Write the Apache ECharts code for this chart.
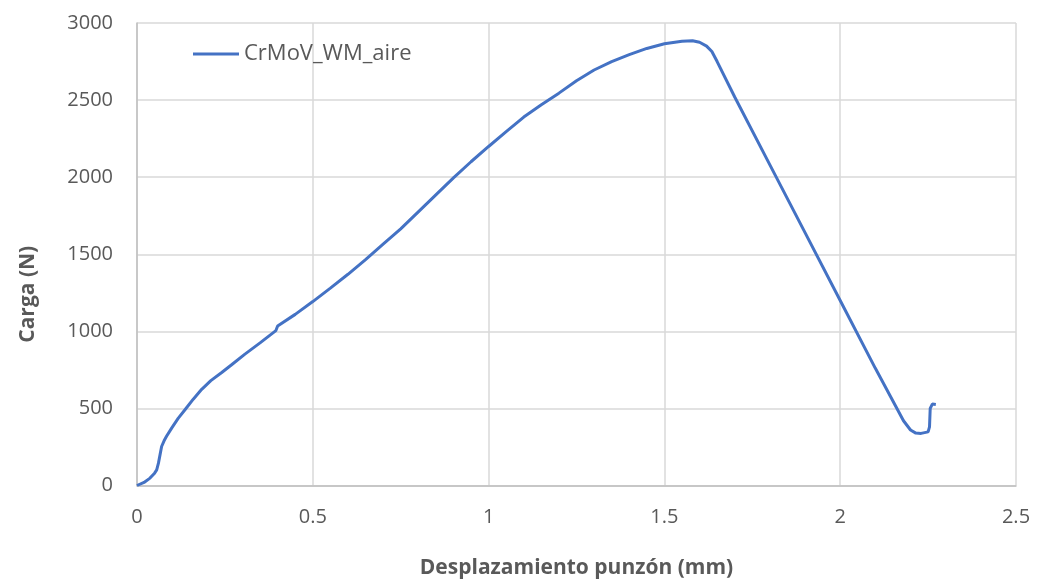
<!DOCTYPE html>
<html>
<head>
<meta charset="utf-8">
<script src="https://cdn.jsdelivr.net/npm/echarts@6/dist/echarts.min.js"></script>
<style>
  html, body { margin: 0; padding: 0; background: #fff; }
  #chart { width: 1038px; height: 585px; }
</style>
</head>
<body>
<div id="chart"></div>
<script>
// desplazamiento (mm), carga (N)
const desplazamiento = [0, 0.02, 0.037, 0.05, 0.056, 0.061, 0.066, 0.07, 0.077, 0.084, 0.099, 0.117, 0.137, 0.16, 0.184, 0.21, 0.241, 0.27, 0.307, 0.35, 0.395, 0.4, 0.45, 0.5, 0.55, 0.6, 0.65, 0.7, 0.75, 0.8, 0.85, 0.9, 0.95, 1.0, 1.05, 1.1, 1.15, 1.2, 1.25, 1.3, 1.35, 1.4, 1.45, 1.5, 1.55, 1.58, 1.6, 1.62, 1.635, 1.65, 1.7, 1.8, 1.9, 2.0, 2.1, 2.18, 2.2, 2.215, 2.23, 2.25, 2.254, 2.256, 2.262, 2.272];
const carga = [0, 20, 48, 80, 101, 145, 205, 253, 290, 319, 374, 435, 493, 560, 624, 680, 733, 785, 852, 925, 1005, 1035, 1110, 1193, 1280, 1370, 1465, 1565, 1665, 1775, 1885, 1995, 2100, 2199, 2295, 2390, 2470, 2545, 2625, 2695, 2750, 2795, 2835, 2865, 2882, 2885, 2875, 2850, 2815, 2750, 2520, 2080, 1640, 1200, 760, 420, 360, 340, 338, 348, 380, 500, 528, 525];

const serieNombre = "CrMoV_WM_aire";
const fuente = "Open Sans";

const datos = desplazamiento.map((x, i) => [x, carga[i]]);

const myChart = echarts.init(document.getElementById("chart"));
let option = {
  animation: false,
  textStyle: { fontFamily: fuente },
  grid: { left: 137, right: 22, top: 23, bottom: 99.5 },
  legend: {
    left: 188,
    top: 38,
    itemWidth: 46,
    itemHeight: 3,
    icon: "rect",
    itemGap: 6,
    textStyle: { fontSize: 22, color: "#595959", fontFamily: fuente },
    data: [serieNombre],
  },
  xAxis: {
    type: "value",
    min: 0,
    max: 2.5,
    interval: 0.5,
    name: "Desplazamiento punzón (mm)",
    nameLocation: "middle",
    nameGap: 72,
    nameTextStyle: { fontSize: 21, fontWeight: "bold", color: "#595959" },
    axisLine: { lineStyle: { color: "#bfbfbf", width: 1.5 } },
    axisTick: { show: false },
    axisLabel: { fontSize: 20, color: "#595959", margin: 22 },
    splitLine: { show: true, lineStyle: { color: "#d9d9d9", width: 1.5 } },
  },
  yAxis: {
    type: "value",
    min: 0,
    max: 3000,
    interval: 500,
    name: "Carga (N)",
    nameLocation: "middle",
    nameGap: 98,
    nameTextStyle: { fontSize: 21, fontWeight: "bold", color: "#595959", padding: [0, 80, 0, 0] },
    axisLine: { show: true, lineStyle: { color: "#bfbfbf", width: 1.5 } },
    axisTick: { show: false },
    axisLabel: { fontSize: 20, color: "#595959", margin: 24, formatter: (v) => String(v) },
    splitLine: { show: true, lineStyle: { color: "#d9d9d9", width: 1.5 } },
  },
  series: [
    {
      name: serieNombre,
      type: "line",
      data: datos,
      showSymbol: false,
      smooth: false,
      lineStyle: { color: "#4472C4", width: 3 },
      itemStyle: { color: "#4472C4" },
    },
  ],
};

option && myChart.setOption(option);
</script>
</body>
</html>
